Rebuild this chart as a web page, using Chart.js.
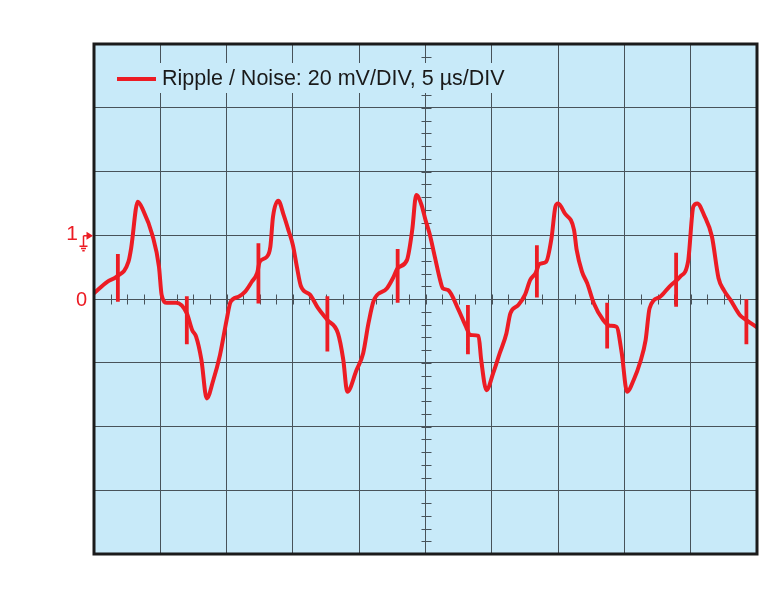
<!DOCTYPE html>
<html>
<head>
<meta charset="utf-8">
<script src="https://cdn.jsdelivr.net/npm/chart.js@4.4.1/dist/chart.umd.min.js"></script>
<style>
  html, body { margin: 0; padding: 0; background: #ffffff; }
  #wrap { width: 768px; height: 603px; }
</style>
</head>
<body>
<div id="wrap"><canvas id="scope" width="768" height="603"></canvas></div>
<script>
// Oscilloscope capture: 5 µs/DIV (x, 10 divisions), 20 mV/DIV (y, 8 divisions)
const waveTime = [
  0.0, 1.0, 1.7, 2.6, 2.8, 3.3, 3.7, 4.4, 4.9, 5.1, 5.5, 6.2, 7.0, 7.4, 7.7, 8.1, 8.5, 9.0, 9.5, 10.0,
  10.3, 10.9, 11.4, 11.9, 12.3, 12.5, 13.0, 13.3, 13.5, 13.9, 14.3, 14.7, 15.0, 15.3, 15.6, 16.3, 16.9, 17.6,
  18.4, 18.8, 19.1, 19.8, 20.3, 20.7, 21.1, 22.1, 22.6, 22.9, 23.6, 24.0, 24.3, 24.7, 25.0, 25.3, 25.7, 26.1,
  26.3, 26.7, 27.5, 28.0, 28.4, 29.0, 29.2, 29.6, 30.1, 30.6, 31.1, 31.4, 32.0, 32.5, 32.9, 33.3, 33.6, 34.1,
  34.5, 34.8, 35.0, 35.5, 36.2, 36.4, 36.8, 37.2, 37.7, 38.4, 38.9, 39.4, 39.8, 40.2, 40.7, 41.2, 41.6, 41.9,
  42.7, 43.4, 44.2, 44.8, 45.2, 45.5, 46.0, 46.6, 47.1, 47.5, 48.0, 48.7, 49.2, 50.0
];
const waveMv = [
  1.8, 5.4, 7.0, 11.7, 15.9, 30.5, 27.9, 20.1, 10.1, 1.3, -1.2, -1.2, -4.5, -9.7, -11.8, -19.1, -31.2, -25.4, -17.6, -6.6,
  -0.9, 0.7, 2.3, 5.4, 8.1, 11.7, 13.1, 16.4, 25.8, 30.8, 26.4, 21.1, 16.9, 10.1, 4.1, 1.3, -2.9, -6.6,
  -10.8, -19.1, -29.1, -22.3, -17.0, -7.6, -0.5, 3.4, 7.0, 9.7, 12.2, 21.7, 32.6, 29.5, 24.8, 20.6, 13.3, 6.0,
  3.4, 2.8, -3.5, -8.2, -11.3, -11.6, -19.1, -28.6, -23.3, -17.0, -10.8, -4.5, -1.9, 1.3, 6.0, 8.1, 11.0, 11.7,
  19.0, 29.0, 30.0, 26.9, 21.7, 15.4, 8.6, 4.9, -1.4, -6.6, -8.4, -8.7, -17.0, -29.1, -25.4, -19.7, -12.9, -2.9,
  0.7, 3.9, 7.0, 11.7, 29.0, 30.0, 26.4, 19.6, 6.5, 2.8, -0.3, -5.0, -6.6, -8.9
];

// switching spikes: time and the top / bottom of each vertical stroke
const spikeTime   = [1.8, 7.0, 12.4, 17.6, 22.9, 28.2, 33.4, 38.7, 43.9, 49.2];
const spikeTop    = [14.1, 0.9, 17.5, 0.9, 15.7, -1.9, 16.9, -1.2, 14.5, -0.1];
const spikeBottom = [-0.9, -14.2, -1.4, -16.5, -1.2, -17.3, 0.5, -15.5, -2.4, -14.2];

// channel markers on the left edge
const markerLabels = ['0', '1'];
const markerValues = [0, 20];

const legendText = 'Ripple / Noise: 20 mV/DIV, 5 µs/DIV';

const RED = '#ec1c24';
const SCREEN = '#c8eaf9';
const GRID = '#48535a';

const wavePoints = waveTime.map((t, i) => ({ x: t, y: waveMv[i] }));
const spikePoints = [];
spikeTime.forEach((t, i) => {
  spikePoints.push({ x: t, y: spikeTop[i] });
  spikePoints.push({ x: t, y: spikeBottom[i] });
  spikePoints.push({ x: t, y: null });
});

// screen background, minor ticks, legend, border and channel markers
const scopePlugin = {
  id: 'scopePlugin',
  beforeDraw(chart) {
    const { ctx, chartArea: a } = chart;
    ctx.save();
    ctx.fillStyle = SCREEN;
    ctx.fillRect(a.left, a.top, a.right - a.left, a.bottom - a.top);
    ctx.restore();
  },
  beforeDatasetsDraw(chart) {
    const { ctx, scales: { x, y } } = chart;
    const cx = Math.round(x.getPixelForValue(25)) + 0.5;
    const cy = Math.round(y.getPixelForValue(0)) + 0.5;
    ctx.save();
    ctx.strokeStyle = GRID;
    ctx.lineWidth = 1;
    ctx.beginPath();
    // quarter-division ticks along the zero line
    for (let t = 0; t <= 50; t += 1.25) {
      const px = Math.round(x.getPixelForValue(t)) + 0.5;
      ctx.moveTo(px, cy - 5);
      ctx.lineTo(px, cy + 5);
    }
    // fifth-division ticks along the centre line
    for (let v = -80; v <= 80; v += 4) {
      const py = Math.round(y.getPixelForValue(v)) + 0.5;
      ctx.moveTo(cx - 5, py);
      ctx.lineTo(cx + 5, py);
    }
    ctx.stroke();
    ctx.restore();
  },
  afterDatasetsDraw(chart) {
    const { ctx } = chart;
    ctx.save();
    ctx.fillStyle = SCREEN;
    ctx.fillRect(100, 63, 420, 30);
    ctx.strokeStyle = RED;
    ctx.lineWidth = 4;
    ctx.beginPath();
    ctx.moveTo(117, 79);
    ctx.lineTo(156, 79);
    ctx.stroke();
    ctx.fillStyle = '#1a1a1a';
    ctx.font = '21.5px "Liberation Sans", Arial, sans-serif';
    ctx.textBaseline = 'middle';
    ctx.textAlign = 'left';
    ctx.fillText(legendText, 162, 79);
    ctx.restore();
  },
  afterDraw(chart) {
    const { ctx, chartArea: a, scales: { y } } = chart;
    ctx.save();
    ctx.strokeStyle = '#1b1b1b';
    ctx.lineWidth = 3;
    ctx.strokeRect(a.left, a.top, a.right - a.left, a.bottom - a.top);

    ctx.fillStyle = RED;
    ctx.textBaseline = 'middle';
    ctx.textAlign = 'right';
    ctx.font = '20px "Liberation Sans", Arial, sans-serif';
    ctx.fillText(markerLabels[0], 87, y.getPixelForValue(markerValues[0]) + 1);
    ctx.font = '21px "Liberation Sans", Arial, sans-serif';
    ctx.fillText(markerLabels[1], 78, y.getPixelForValue(markerValues[1]) - 1);

    // channel 1 ground marker
    const my = y.getPixelForValue(markerValues[1]) + 0.5;
    ctx.strokeStyle = RED;
    ctx.lineWidth = 1.5;
    ctx.beginPath();
    ctx.moveTo(83.5, my);
    ctx.lineTo(83.5, my + 10);
    ctx.moveTo(83.5, my);
    ctx.lineTo(88, my);
    ctx.moveTo(79.5, my + 10.5); ctx.lineTo(87.5, my + 10.5);
    ctx.moveTo(81, my + 12.8); ctx.lineTo(86, my + 12.8);
    ctx.moveTo(82.3, my + 15); ctx.lineTo(84.7, my + 15);
    ctx.stroke();
    ctx.beginPath();
    ctx.moveTo(86.5, my - 4);
    ctx.lineTo(93, my);
    ctx.lineTo(86.5, my + 4);
    ctx.closePath();
    ctx.fill();
    ctx.restore();
  }
};

new Chart(document.getElementById('scope'), {
  type: 'line',
  data: {
    datasets: [
      {
        label: legendText,
        data: wavePoints,
        borderColor: RED,
        borderWidth: 4,
        pointRadius: 0,
        cubicInterpolationMode: 'monotone',
        borderJoinStyle: 'round',
        borderCapStyle: 'round',
        fill: false
      },
      {
        label: 'spikes',
        data: spikePoints,
        borderColor: RED,
        borderWidth: 3.8,
        pointRadius: 0,
        tension: 0,
        spanGaps: false,
        fill: false
      }
    ]
  },
  options: {
    responsive: false,
    animation: false,
    layout: { padding: { left: 94, top: 44, right: 11, bottom: 49 } },
    plugins: {
      legend: { display: false },
      tooltip: { enabled: false }
    },
    scales: {
      x: {
        type: 'linear',
        min: 0,
        max: 50,
        ticks: { display: false, stepSize: 5 },
        grid: { color: GRID, lineWidth: 1, drawTicks: false },
        border: { display: false }
      },
      y: {
        type: 'linear',
        min: -80,
        max: 80,
        ticks: { display: false, stepSize: 20 },
        grid: { color: GRID, lineWidth: 1, drawTicks: false },
        border: { display: false }
      }
    }
  },
  plugins: [scopePlugin]
});
</script>
</body>
</html>
